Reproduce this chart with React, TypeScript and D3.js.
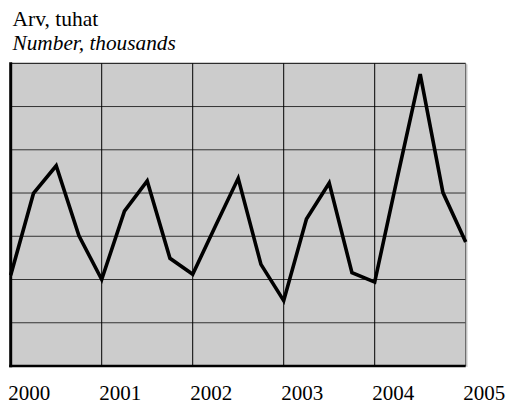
import React from "react";
import * as d3 from "d3";

const years = [2000, 2001, 2002, 2003, 2004, 2005];
const values = [
  2.1, 3.99, 4.63, 3.01,
  2.0, 3.58, 4.28, 2.49,
  2.12, 3.24, 4.34, 2.35,
  1.51, 3.4, 4.23, 2.16,
  1.94, 4.37, 6.75, 4.01,
  2.87,
];
const yTicks = [0, 1, 2, 3, 4, 5, 6, 7];
const titleLine1 = "Arv, tuhat";
const titleLine2 = "Number, thousands";

export default function App() {
  const W = 510, H = 405;
  const left = 10.7, right = 465.7, top = 63.3, bottom = 366;
  const x = d3.scaleLinear().domain([2000, 2005]).range([left, right]);
  const y = d3.scaleLinear().domain([0, 7]).range([bottom, top]);
  const tx = (i: number) => 2000 + i / 4;
  const line = d3
    .line<number>()
    .x((_, i) => x(tx(i)))
    .y((d) => y(d));
  const ff = "Liberation Serif";
  return (
    <svg
      width={W}
      height={H}
      style={{ position: "absolute", left: 0, top: 0, background: "#fff" }}
    >
      <text x={12.5} y={26} fontFamily={ff} fontSize={21.5} fill="#000">
        {titleLine1}
      </text>
      <text x={12.5} y={50} fontFamily={ff} fontSize={21.3} fontStyle="italic" fill="#000">
        {titleLine2}
      </text>
      <rect x={right} y={top + 1} width={2} height={bottom - top} fill="#d8d8d8" />
      <rect x={left} y={top} width={right - left} height={bottom - top} fill="#cccccc" />
      {yTicks.slice(1, -1).map((t) => (
        <line key={"h" + t} x1={left} x2={right} y1={y(t)} y2={y(t)} stroke="#333" strokeWidth={1} />
      ))}
      {years.slice(1, -1).map((yr) => (
        <line key={"v" + yr} x1={x(yr)} x2={x(yr)} y1={top} y2={bottom} stroke="#000" strokeWidth={1} />
      ))}
      <line x1={left} x2={right} y1={top} y2={top} stroke="#000" strokeWidth={1} />
      <line x1={right} x2={right} y1={top} y2={bottom} stroke="#555" strokeWidth={1} />
      <path d={line(values) || ""} fill="none" stroke="#000" strokeWidth={3.6} strokeLinejoin="miter" />
      <line x1={left} x2={left} y1={top - 1} y2={bottom + 1.2} stroke="#000" strokeWidth={3} />
      <line x1={left - 1.5} x2={right} y1={bottom} y2={bottom} stroke="#000" strokeWidth={2.5} />
      {years.map((yr) => (
        <text key={"t" + yr} x={x(yr) - 2.5} y={400} fontFamily={ff} fontSize={21} fill="#000">
          {yr}
        </text>
      ))}
    </svg>
  );
}
